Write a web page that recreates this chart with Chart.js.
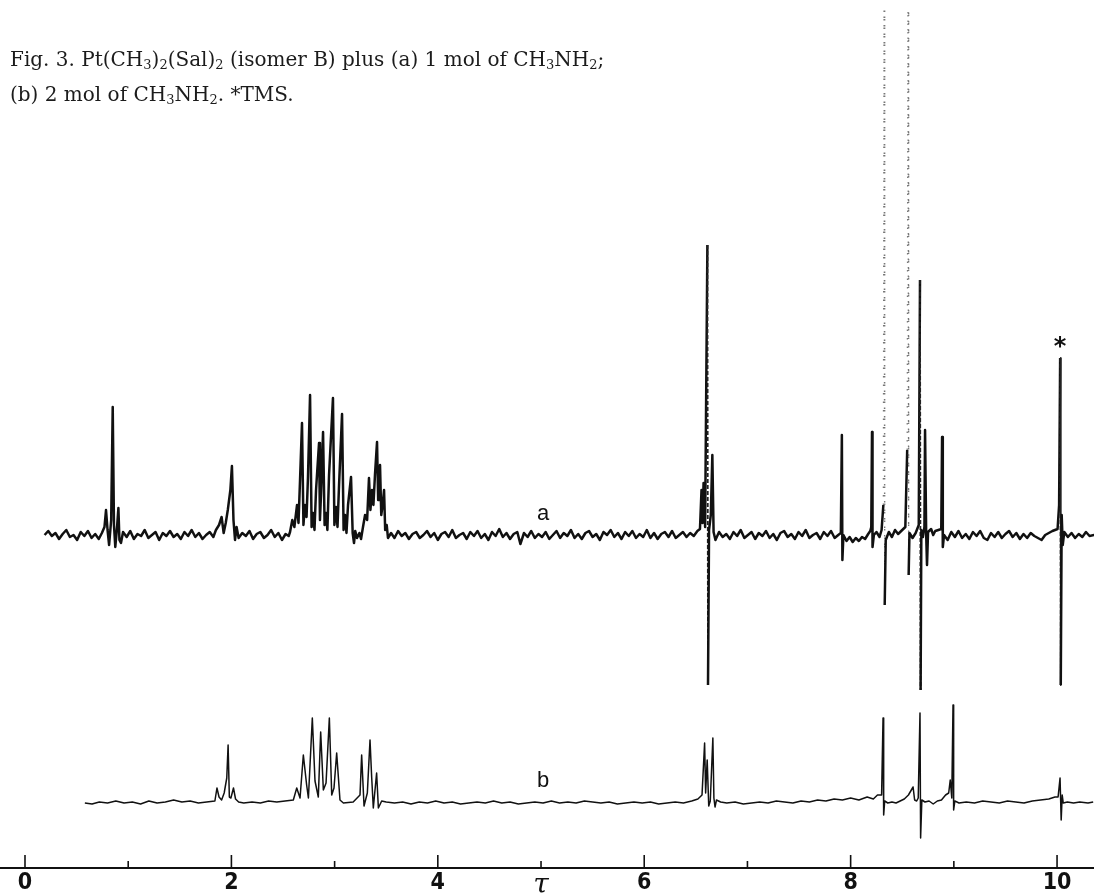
<!DOCTYPE html>
<html>
<head>
<meta charset="utf-8">
<title>Fig. 3 NMR</title>
<script src="https://cdn.jsdelivr.net/npm/chart.js@4.4.0/dist/chart.umd.min.js"></script>
<style>
  html, body { margin: 0; padding: 0; background: #fff; }
  #wrap { position: relative; width: 1094px; height: 893px; }
  #caption {
    position: absolute; left: 10px; top: 42px;
    font-family: "DejaVu Serif", serif; font-size: 20px; line-height: 35px;
    color: #1b1b1b; white-space: nowrap;
  }
  #caption sub { font-size: 65%; vertical-align: -0.25em; line-height: 0; }
</style>
</head>
<body>
<div id="wrap">
  <canvas id="nmr" width="1094" height="893"></canvas>
  <div id="caption">Fig. 3. Pt(CH<sub>3</sub>)<sub>2</sub>(Sal)<sub>2</sub> (isomer B) plus (a) 1 mol of CH<sub>3</sub>NH<sub>2</sub>;<br>(b) 2 mol of CH<sub>3</sub>NH<sub>2</sub>. *TMS.</div>
</div>
<script>
// tau scale
var tickVals = [0, 1, 2, 3, 4, 5, 6, 7, 8, 9, 10];
var tickText = ['0', '', '2', '', '4', 'τ', '6', '', '8', '', '10'];

// trace a: [tau, signal]
var spectrumA = [
  [0.19,0],[0.225,4],[0.26,-1],[0.295,2],[0.33,-4],[0.365,1],[0.40,5],[0.435,-2],[0.47,0],[0.505,-5],[0.54,3],[0.575,-1],
  [0.61,4],[0.645,-3],[0.68,1],[0.715,-4],[0.745,2],
  [0.77,8],[0.785,25],[0.80,5],[0.815,-10],[0.835,15],[0.85,128],[0.862,10],[0.875,-12],[0.89,5],[0.905,27],[0.915,-5],[0.93,-8],
  [0.95,3],[0.985,-2],[1.02,4],[1.055,-4],[1.09,1],[1.125,-1],[1.16,5],[1.195,-3],[1.23,0],[1.265,3],[1.30,-5],[1.335,2],
  [1.37,-1],[1.405,4],[1.44,-2],[1.475,1],[1.51,-4],[1.545,3],[1.58,-1],[1.615,5],[1.65,-2],[1.685,2],[1.72,-4],[1.755,0],
  [1.79,3],[1.825,-2],
  [1.85,5],[1.88,10],[1.905,18],[1.925,2],[1.945,12],[1.965,25],[1.99,45],[2.005,69],[2.02,15],[2.035,-5],[2.05,8],
  [2.07,-3],[2.105,2],[2.14,-1],[2.175,4],[2.21,-4],[2.245,1],[2.28,3],[2.315,-3],[2.35,0],[2.385,5],[2.42,-2],[2.455,2],
  [2.49,-5],[2.525,1],[2.555,-1],
  [2.568,3],[2.59,15],[2.61,8],[2.636,30],[2.65,12],[2.665,55],[2.684,112],[2.698,10],[2.713,30],[2.728,18],[2.742,58],[2.762,140],
  [2.777,8],[2.791,22],[2.805,5],[2.82,45],[2.849,92],[2.858,15],[2.868,40],[2.888,103],[2.903,10],[2.917,22],[2.93,5],[2.946,60],
  [2.984,137],[2.998,10],[3.014,28],[3.028,8],[3.043,50],[3.072,121],[3.087,5],[3.101,20],[3.115,2],[3.13,30],[3.159,58],[3.175,2],
  [3.188,-8],[3.20,4],[3.217,-3],[3.24,2],[3.256,-4],[3.275,8],[3.295,20],[3.315,15],[3.333,57],[3.347,25],[3.362,45],[3.376,30],
  [3.391,60],[3.411,93],[3.422,35],[3.43,40],[3.44,70],[3.452,20],[3.465,30],[3.479,45],[3.49,5],[3.505,10],[3.517,-3],
  [3.547,2],[3.58,-3],[3.615,4],[3.65,-1],[3.685,2],[3.72,-4],[3.755,1],[3.79,3],[3.825,-3],[3.86,0],[3.895,4],[3.93,-2],
  [3.965,2],[4.00,-5],[4.035,1],[4.07,3],[4.105,-2],[4.14,5],[4.175,-3],[4.21,0],[4.245,2],[4.28,-4],[4.315,3],[4.35,-1],
  [4.385,4],[4.42,-3],[4.455,1],[4.49,-5],[4.525,3],[4.56,-1],[4.595,6],[4.63,-2],[4.665,2],[4.70,-4],[4.735,1],[4.77,3],
  [4.80,-9],[4.835,2],[4.87,-2],[4.905,4],[4.94,-3],[4.975,1],[5.01,-2],[5.045,3],[5.08,-4],[5.115,0],[5.15,4],[5.185,-3],
  [5.22,2],[5.255,-1],[5.29,5],[5.325,-3],[5.36,1],[5.395,-4],[5.43,2],[5.465,4],[5.50,-2],[5.535,1],[5.57,-5],[5.605,3],
  [5.64,0],[5.675,5],[5.71,-2],[5.745,2],[5.78,-4],[5.815,3],[5.85,-1],[5.885,4],[5.92,-3],[5.955,1],[5.99,-2],[6.025,5],
  [6.06,-3],[6.095,2],[6.13,-4],[6.165,1],[6.20,3],[6.235,-2],[6.27,4],[6.305,-3],[6.34,0],[6.375,3],[6.41,-2],[6.445,2],
  [6.48,-1],[6.515,4],
  [6.54,6],[6.555,45],[6.565,12],[6.575,52],[6.59,8],[6.612,290],[6.618,-150],[6.628,5],[6.645,20],[6.66,80],[6.672,3],
  [6.69,-5],[6.725,3],[6.76,-2],[6.795,1],[6.83,-4],[6.865,3],[6.90,-1],[6.935,5],[6.97,-3],[7.005,0],[7.04,3],[7.075,-4],
  [7.11,2],[7.145,-1],[7.18,4],[7.215,-3],[7.25,1],[7.285,-5],[7.32,2],[7.355,4],[7.39,-2],[7.425,1],[7.46,-4],[7.495,3],
  [7.53,-1],[7.565,5],[7.60,-3],[7.635,0],[7.67,2],[7.705,-4],[7.74,3],[7.775,-1],[7.81,4],[7.845,-3],[7.88,0],
  [7.905,2],[7.915,100],[7.92,-25],[7.93,0],[7.96,-6],[7.99,-2],[8.02,-7],[8.05,-3],[8.08,-6],[8.11,-2],[8.14,-4],[8.17,1],[8.19,4],
  [8.20,8],[8.207,103],[8.212,-12],[8.225,0],[8.25,3],[8.28,-2],[8.30,5],[8.317,30],[8.324,525],[8.33,-70],[8.34,-5],
  [8.37,3],[8.40,-2],[8.43,5],[8.46,1],[8.49,4],[8.51,6],[8.53,8],[8.548,85],[8.556,525],[8.562,-40],[8.57,2],[8.60,-3],[8.63,2],
  [8.66,10],[8.672,255],[8.678,-155],[8.685,5],[8.70,-2],[8.715,8],[8.721,105],[8.732,0],[8.74,-30],[8.75,3],[8.78,6],
  [8.80,0],[8.82,4],[8.85,5],[8.878,6],[8.886,98],[8.893,-12],
  [8.905,0],[8.94,-5],[8.975,3],[9.01,-2],[9.045,4],[9.08,-3],[9.115,1],[9.15,-4],[9.185,3],[9.22,-1],[9.255,4],[9.29,-3],
  [9.325,-5],[9.36,2],[9.395,-2],[9.43,3],[9.465,-3],[9.50,1],[9.535,4],[9.57,-2],[9.605,2],[9.64,-4],[9.675,1],[9.71,-3],
  [9.745,2],[9.78,-1],[9.815,-3],[9.85,-5],[9.885,0],[9.92,2],[9.955,4],[9.98,5],
  [10.005,6],[10.02,30],[10.03,177],[10.036,-150],[10.045,20],[10.055,-10],
  [10.07,3],[10.105,-2],[10.14,2],[10.175,-3],[10.21,1],[10.245,-2],[10.28,3],[10.315,-1],[10.36,0]
];

// trace b: [tau, signal]
var spectrumB = [
  [0.58,0],[0.65,-1],[0.72,1],[0.80,0],[0.88,2],[0.96,0],[1.04,1],[1.12,-1],[1.20,2],[1.28,0],[1.36,1],[1.44,3],[1.52,1],
  [1.60,2],[1.68,0],[1.76,1],[1.84,2],
  [1.86,15],[1.88,6],[1.905,3],[1.93,10],[1.955,25],[1.968,58],[1.98,6],[1.995,5],[2.02,15],[2.04,4],[2.07,1],
  [2.12,0],[2.20,1],[2.28,0],[2.36,2],[2.44,1],[2.52,2],[2.60,3],
  [2.633,15],[2.665,5],[2.697,48],[2.729,18],[2.746,5],[2.784,85],[2.81,22],[2.842,6],[2.865,71],[2.891,13],[2.917,20],
  [2.949,85],[2.972,8],[2.994,15],[3.02,50],[3.052,3],[3.085,0],[3.18,1],
  [3.246,8],[3.262,48],[3.285,-3],[3.317,10],[3.343,63],[3.359,26],[3.375,-5],[3.407,30],[3.424,-5],[3.456,2],
  [3.50,1],[3.58,0],[3.66,1],[3.74,-1],[3.82,1],[3.90,0],[3.98,2],[4.06,0],[4.14,1],[4.22,-1],[4.30,0],[4.38,1],[4.46,0],
  [4.54,2],[4.62,0],[4.70,1],[4.78,-1],[4.86,0],[4.94,1],[5.02,0],[5.10,2],[5.18,0],[5.26,1],[5.34,0],[5.42,2],[5.50,1],
  [5.58,0],[5.66,1],[5.74,-1],[5.82,0],[5.90,1],[5.98,0],[6.06,1],[6.14,-1],[6.22,0],[6.30,1],[6.38,0],[6.46,2],[6.52,4],
  [6.56,8],[6.585,60],[6.595,10],[6.61,43],[6.625,-3],[6.64,2],[6.665,65],[6.675,5],[6.686,-4],[6.70,3],[6.74,1],
  [6.80,0],[6.88,1],[6.96,-1],[7.04,0],[7.12,1],[7.20,0],[7.28,2],[7.36,1],[7.44,0],[7.52,2],[7.60,1],[7.68,3],[7.76,2],
  [7.84,4],[7.92,3],[8.00,5],[8.08,3],[8.16,6],[8.22,4],[8.26,8],
  [8.30,8],[8.314,85],[8.32,-12],[8.33,2],[8.36,0],[8.40,1],[8.44,0],[8.48,2],[8.52,4],[8.56,8],[8.605,16],[8.62,3],[8.64,2],
  [8.655,5],[8.672,90],[8.678,-35],[8.69,3],[8.72,1],[8.76,2],[8.80,-1],[8.84,2],[8.88,3],[8.92,8],
  [8.95,10],[8.965,23],[8.98,5],[8.992,98],[8.998,-7],[9.01,2],[9.05,0],[9.12,1],[9.20,0],[9.28,2],[9.36,1],[9.44,0],
  [9.52,2],[9.60,1],[9.68,0],[9.76,2],[9.84,3],[9.92,4],[9.98,6],
  [10.01,6],[10.029,25],[10.04,-17],[10.05,8],[10.06,0],[10.10,1],[10.16,0],[10.22,1],[10.30,0],[10.35,1]
];

// trace letters and the TMS star
var markText = ['a', 'b', '*'];
var markTau = [5.02, 5.02, 10.03];
var markLevel = [15, 16, 181];
var markAxis = ['yA', 'yB', 'yA'];

function toPoints(list) {
  return list.map(function (p) { return { x: p[0], y: p[1] }; });
}

// fast pen strokes: lines reaching the top edge almost vanish, other long drops come out dotted
function faint(c) { return Math.min(c.p0.y, c.p1.y) < 150; }
function dottedDrop(c) { return c.p1.y - c.p0.y > 300; }

var tauAxisMarks = {
  id: 'tauAxisMarks',
  afterDraw: function (chart) {
    var ctx = chart.ctx;
    var xs = chart.scales.x;
    var y0 = xs.top;
    ctx.save();
    ctx.strokeStyle = '#111';
    ctx.lineWidth = 1.6;
    tickVals.forEach(function (v) {
      var px = xs.getPixelForValue(v);
      ctx.beginPath();
      ctx.moveTo(px, y0);
      ctx.lineTo(px, y0 - (v % 2 === 0 ? 13 : 7));
      ctx.stroke();
    });
    ctx.fillStyle = '#111';
    ctx.textAlign = 'center';
    ctx.textBaseline = 'alphabetic';
    markText.forEach(function (t, i) {
      ctx.font = t === '*' ? 'bold 24px "DejaVu Sans"' : '22px "Liberation Sans", Arial, sans-serif';
      ctx.fillText(t, xs.getPixelForValue(markTau[i]), chart.scales[markAxis[i]].getPixelForValue(markLevel[i]));
    });
    ctx.restore();
  }
};

new Chart(document.getElementById('nmr'), {
  type: 'line',
  data: {
    datasets: [
      {
        label: 'a',
        data: toPoints(spectrumA),
        yAxisID: 'yA',
        borderColor: '#111',
        borderWidth: 2.5,
        pointRadius: 0,
        tension: 0,
        borderJoinStyle: 'round',
        segment: {
          borderDash: function (c) {
            if (faint(c)) return [1.5, 7];
            if (dottedDrop(c)) return [4, 2];
            return undefined;
          },
          borderColor: function (c) {
            if (faint(c)) return '#777';
            if (dottedDrop(c)) return '#222';
            return undefined;
          },
          borderWidth: function (c) {
            if (faint(c)) return 1.3;
            if (dottedDrop(c)) return 1.8;
            return undefined;
          }
        }
      },
      {
        label: 'b',
        data: toPoints(spectrumB),
        yAxisID: 'yB',
        borderColor: '#111',
        borderWidth: 1.5,
        pointRadius: 0,
        tension: 0,
        borderJoinStyle: 'round'
      }
    ]
  },
  options: {
    responsive: false,
    animation: false,
    layout: { padding: 0 },
    plugins: { legend: { display: false }, tooltip: { enabled: false } },
    scales: {
      x: {
        type: 'linear',
        min: -0.2422,
        max: 10.358,
        afterBuildTicks: function (s) { s.ticks = tickVals.map(function (v) { return { value: v }; }); },
        afterFit: function (s) { s.height = 25; },
        grid: { display: false, drawTicks: false },
        border: { display: true, color: '#111', width: 2 },
        ticks: {
          autoSkip: false,
          maxRotation: 0,
          padding: 1,
          color: '#111',
          callback: function (v, i) { return tickText[i]; },
          font: function (c) {
            if (c.tick && c.tick.value === 5) {
              return { family: '"DejaVu Serif", serif', size: 28, style: 'italic' };
            }
            return { family: '"Liberation Sans Narrow", "DejaVu Sans Condensed", sans-serif', size: 23, weight: 'bold' };
          }
        }
      },
      yA: { type: 'linear', display: false, min: -333, max: 535 },
      yB: { type: 'linear', display: false, min: -65, max: 803 }
    }
  },
  plugins: [tauAxisMarks]
});
</script>
</body>
</html>
